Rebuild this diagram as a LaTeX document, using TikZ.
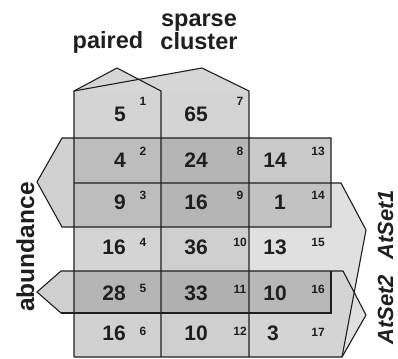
\documentclass[tikz,border=0pt]{standalone}
\usepackage{fontspec}
\setmainfont{Liberation Sans}
\definecolor{roof}{gray}{0.84}
\definecolor{cA}{gray}{0.88}
\definecolor{cB}{gray}{0.83}
\definecolor{tipA}{gray}{0.82}
\definecolor{tipB}{gray}{0.81}
\definecolor{ink}{gray}{0.12}
\begin{document}
\begin{tikzpicture}[x=1pt,y=-1pt,line join=miter]
\tikzset{
  edge/.style={draw=ink,line width=1.1pt},
  big/.style={font=\fontsize{21}{21}\selectfont\bfseries,inner sep=0pt,text=ink},
  small/.style={font=\fontsize{12}{12}\selectfont\bfseries,inner sep=0pt,text=ink},
  lab/.style={font=\fontsize{23.5}{24}\selectfont\bfseries,inner sep=0pt,text=ink},
  setlab/.style={font=\fontsize{22}{24}\selectfont\bfseries\itshape,inner sep=0pt,text=ink,rotate=90,anchor=base}
}
\useasboundingbox (0,0) rectangle (398,358);
% set areas
\fill[cA] (74,183) -- (341,183) -- (366,230) -- (342,357) -- (74,357) -- cycle;
\fill[cA] (249,271) -- (343,271) -- (366,315) -- (342,357) -- (249,357) -- cycle;
\begin{scope}
\clip (74,183) -- (341,183) -- (366,230) -- (342,357) -- (74,357) -- cycle;
\fill[cB] (249,271) -- (343,271) -- (366,315) -- (342,357) -- (249,357) -- cycle;
\end{scope}
\fill[roof] (74,91) -- (117,68) -- (161,91) -- cycle;
\fill[roof] (74,91) -- (202,68) -- (249,91) -- cycle;
\fill[tipA] (62,138) -- (37,182) -- (62,227) -- (74,227) -- (74,138) -- cycle;
\fill[tipB] (61,271) -- (37,292) -- (61,313) -- (74,313) -- (74,271) -- cycle;
% cells: paired column
\fill[black!17] (74,91) rectangle (161,138);
\fill[black!26] (74,138) rectangle (161,227);
\fill[black!17] (74,227) rectangle (161,271);
\fill[black!29] (74,271) rectangle (161,313);
\fill[black!18] (74,313) rectangle (161,357);
% sparse cluster column
\fill[black!17] (161,91) rectangle (249,138);
\fill[black!29] (161,138) rectangle (249,227);
\fill[black!19] (161,227) rectangle (249,271);
\fill[black!31] (161,271) rectangle (249,313);
\fill[black!19] (161,313) rectangle (249,357);
% right column
\fill[black!21] (249,138) rectangle (331,183);
\fill[black!24] (249,183) rectangle (331,227);
\fill[black!28] (249,271) rectangle (331,313);
% outlines
\draw[edge] (74,357) -- (74,91) -- (117,68) -- (161,91) -- (161,357);
\draw[edge] (74,91) -- (202,68) -- (249,91) -- (249,357);
\draw[edge] (62,138) -- (331,138) -- (331,227) -- (62,227) -- (37,182) -- cycle;
\draw[edge] (74,183) -- (341,183) -- (366,230) -- (342,357) -- (74,357);
\draw[edge] (61,313) -- (37,292) -- (61,271) -- (343,271) -- (366,315) -- (342,357);
\draw[edge] (331,271) -- (331,313) -- (61,313);
% big numbers
\node[big,anchor=base east] (p1) at (126,122) {5};
\node[big,anchor=base east] (p2) at (126,167) {4};
\node[big,anchor=base east] (p3) at (126,209) {9};
\node[big,anchor=base east] (p4) at (126,254) {16};
\node[big,anchor=base east] (p5) at (126,300) {28};
\node[big,anchor=base east] (p6) at (126,340) {16};
\node[big,anchor=base east] (s1) at (208,122) {65};
\node[big,anchor=base east] (s2) at (208,167) {24};
\node[big,anchor=base east] (s3) at (208,209) {16};
\node[big,anchor=base east] (s4) at (208,254) {36};
\node[big,anchor=base east] (s5) at (208,300) {33};
\node[big,anchor=base east] (s6) at (208,340) {10};
\node[big,anchor=base east] (r2) at (287,167) {14};
\node[big,anchor=base] (r3) at (280,209) {1};
\node[big,anchor=base east] (r4) at (287,254) {13};
\node[big,anchor=base east] (r5) at (287,300) {10};
\node[big,anchor=base] (r6) at (273,340) {3};
% region numbers
\node[small,anchor=base] (n1) at (143,106) {1};
\node[small,anchor=base] (n2) at (143,155) {2};
\node[small,anchor=base] (n3) at (143,199) {3};
\node[small,anchor=base] (n4) at (143,246) {4};
\node[small,anchor=base] (n5) at (143,292) {5};
\node[small,anchor=base] (n6) at (143,335) {6};
\node[small,anchor=base] (n7) at (240,106) {7};
\node[small,anchor=base] (n8) at (240,155) {8};
\node[small,anchor=base] (n9) at (240,199) {9};
\node[small,anchor=base] (n10) at (240,246) {10};
\node[small,anchor=base] (n11) at (240,293) {11};
\node[small,anchor=base] (n12) at (240,335) {12};
\node[small,anchor=base] (n13) at (318,155) {13};
\node[small,anchor=base] (n14) at (318,199) {14};
\node[small,anchor=base] (n15) at (318,246) {15};
\node[small,anchor=base] (n16) at (318,293) {16};
\node[small,anchor=base] (n17) at (318,336) {17};
% labels
\node[lab,anchor=base] (paired) at (108,49) {paired};
\node[lab,anchor=base] (sparse) at (199,27) {sparse};
\node[lab,anchor=base] (cluster) at (199,50) {cluster};
\node[font=\fontsize{24.5}{24}\selectfont\bfseries,inner sep=0pt,text=ink,rotate=90,anchor=base] (abund) at (34,247) {abundance};
\node[setlab] (set1) at (393,225) {AtSet1};
\node[setlab] (set2) at (393,310) {AtSet2};
\end{tikzpicture}
\end{document}
